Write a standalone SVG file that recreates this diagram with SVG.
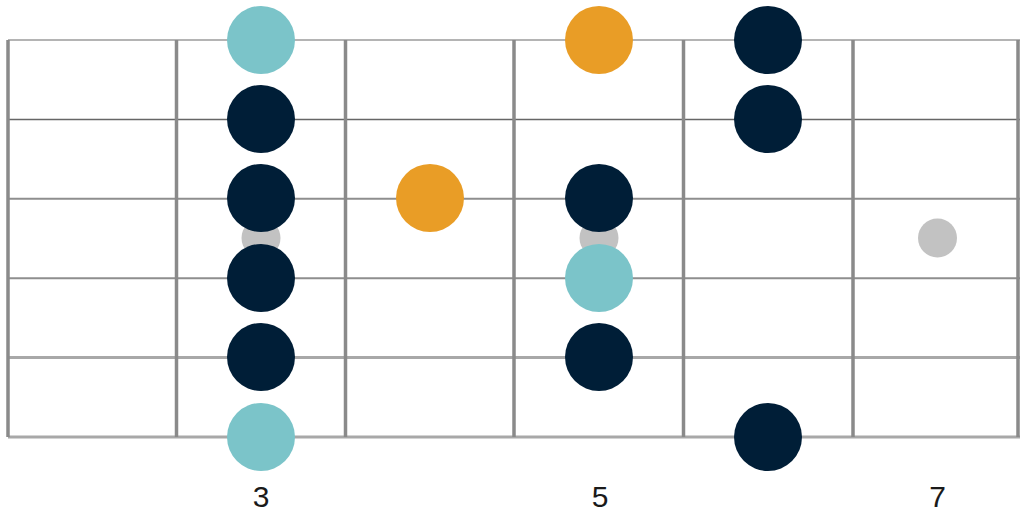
<svg xmlns="http://www.w3.org/2000/svg" width="1024" height="522" viewBox="0 0 1024 522">
<style>
.fret{stroke:#8a8a8a;stroke-width:3.5}
.str{stroke:#8e8e8e;stroke-width:2}
.inlay{fill:#c2c2c2}
.teal{fill:#7bc4c9}
.navy{fill:#001e37}
.orange{fill:#e99d26}
.lbl{font-family:"Liberation Sans",Arial,sans-serif;font-size:30px;fill:#1a1a1a;text-anchor:middle}
</style>
<rect width="1024" height="522" fill="#ffffff"/>
<g id="fretboard">
<line class="str" x1="8" y1="40" x2="1020" y2="40" style="stroke:#b4b4b4"/>
<line class="str" x1="8" y1="119.4" x2="1020" y2="119.4" style="stroke:#666;stroke-width:1.5"/>
<line class="str" x1="8" y1="198.8" x2="1020" y2="198.8"/>
<line class="str" x1="8" y1="278.2" x2="1020" y2="278.2"/>
<line class="str" x1="8" y1="357.6" x2="1020" y2="357.6" style="stroke:#a8a8a8;stroke-width:3"/>
<line class="str" x1="8" y1="437" x2="1020" y2="437" style="stroke:#a8a8a8;stroke-width:3"/>
<line class="fret" x1="8" y1="40" x2="8" y2="437"/>
<line class="fret" x1="176.5" y1="40" x2="176.5" y2="437"/>
<line class="fret" x1="345.5" y1="40" x2="345.5" y2="437"/>
<line class="fret" x1="514" y1="40" x2="514" y2="437"/>
<line class="fret" x1="683.5" y1="40" x2="683.5" y2="437"/>
<line class="fret" x1="853" y1="40" x2="853" y2="437"/>
<line class="fret" x1="1018" y1="40" x2="1018" y2="437"/>
</g>
<g id="inlays">
<circle class="inlay" cx="261" cy="238" r="19.5"/>
<circle class="inlay" cx="599" cy="238" r="19.5"/>
<circle class="inlay" cx="937.5" cy="238" r="19.5"/>
</g>
<g id="notes">
<circle id="n3-1" class="teal" cx="261" cy="40" r="34"/>
<circle id="n3-2" class="navy" cx="261" cy="119" r="34"/>
<circle id="n3-3" class="navy" cx="261" cy="198" r="34"/>
<circle id="n3-4" class="navy" cx="261" cy="278" r="34"/>
<circle id="n3-5" class="navy" cx="261" cy="357" r="34"/>
<circle id="n3-6" class="teal" cx="261" cy="437" r="34"/>
<circle id="n4-3" class="orange" cx="430" cy="198" r="34"/>
<circle id="n5-1" class="orange" cx="599" cy="40" r="34"/>
<circle id="n5-3" class="navy" cx="599" cy="198" r="34"/>
<circle id="n5-4" class="teal" cx="599" cy="278" r="34"/>
<circle id="n5-5" class="navy" cx="599" cy="357" r="34"/>
<circle id="n6-1" class="navy" cx="768" cy="40" r="34"/>
<circle id="n6-2" class="navy" cx="768" cy="119" r="34"/>
<circle id="n6-6" class="navy" cx="768" cy="437" r="34"/>
</g>
<g id="labels">
<text class="lbl" x="261" y="507">3</text>
<text class="lbl" x="600" y="507">5</text>
<text class="lbl" x="937.5" y="507">7</text>
</g>
</svg>
